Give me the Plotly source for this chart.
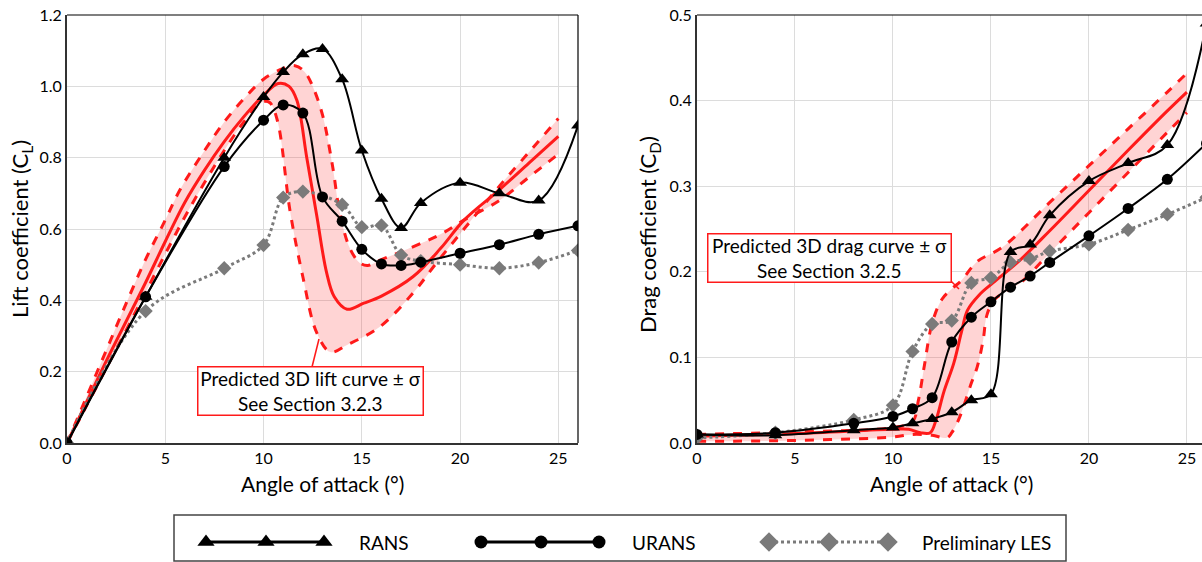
import plotly.graph_objects as go

# ---------------- data ----------------
# Lift coefficient vs angle of attack
aoa_rans_cl = [0, 4, 8, 10, 11, 12, 13, 14, 15, 16, 17, 18, 20, 22, 24, 26]
cl_rans = [0, 0.41, 0.80, 0.97, 1.04, 1.09, 1.105, 1.02, 0.82, 0.685, 0.603, 0.673, 0.73, 0.70, 0.68, 0.89]

aoa_urans_cl = [0, 4, 8, 10, 11, 12, 13, 14, 15, 16, 17, 18, 20, 22, 24, 26]
cl_urans = [0, 0.41, 0.775, 0.905, 0.948, 0.925, 0.69, 0.622, 0.543, 0.502, 0.498, 0.507, 0.532, 0.556, 0.585, 0.609]

aoa_les_cl = [0, 4, 8, 10, 11, 12, 14, 15, 16, 17, 18, 20, 22, 24, 26]
cl_les = [0, 0.37, 0.49, 0.555, 0.688, 0.705, 0.668, 0.605, 0.61, 0.527, 0.51, 0.50, 0.49, 0.506, 0.54]

# Predicted 3D lift curve and its +/- sigma envelopes
aoa_pred_cl = [0, 1, 2, 3, 4, 5, 6, 7, 8, 9, 10, 10.75, 11.3, 11.7, 12.2, 12.7, 13.2, 13.6,
               14.25, 15.1, 16, 17.6, 19, 20.2, 22, 23.5, 25]
cl_pred = [0, 0.115, 0.23, 0.34, 0.45, 0.565, 0.675, 0.765, 0.845, 0.915, 0.975, 1.008, 1.0, 0.96,
           0.80, 0.64, 0.48, 0.41, 0.375, 0.392, 0.412, 0.466, 0.545, 0.625, 0.71, 0.785, 0.86]

aoa_cl_late = [0, 1, 2, 3, 4, 5, 5.75, 7, 8, 9, 10, 11, 11.6, 12.1, 12.5, 13, 13.5, 13.9, 14.4,
               14.9, 15.3, 15.9, 17.6, 19, 20.2, 22, 23.5, 25]
cl_late = [0, 0.13, 0.26, 0.39, 0.515, 0.625, 0.71, 0.82, 0.9, 0.965, 1.02, 1.05, 1.058, 1.04,
           1.0, 0.92, 0.78, 0.64, 0.545, 0.505, 0.498, 0.512, 0.55, 0.585, 0.625, 0.68, 0.745, 0.81]

aoa_cl_early = [0, 1, 2, 3, 3.7, 5, 6.26, 8, 9, 9.9, 10.3, 10.7, 11.35, 12.0, 12.7, 13.4, 14.25,
                15.9, 17.6, 18.8, 20.2, 22, 23.5, 25]
cl_early = [0, 0.105, 0.21, 0.315, 0.39, 0.53, 0.66, 0.82, 0.9, 0.955, 0.955, 0.905, 0.65, 0.466,
            0.31, 0.255, 0.275, 0.325, 0.42, 0.505, 0.6, 0.72, 0.815, 0.91]

# Drag coefficient vs angle of attack
aoa_rans_cd = [0, 4, 8, 10, 11, 12, 13, 14, 15, 16, 17, 18, 20, 22, 24, 26]
cd_rans = [0.010, 0.009, 0.015, 0.018, 0.023, 0.028, 0.036, 0.050, 0.057, 0.223, 0.232, 0.266,
           0.306, 0.327, 0.348, 0.49]

aoa_urans_cd = [0, 4, 8, 10, 11, 12, 13, 14, 15, 16, 17, 18, 20, 22, 24, 26]
cd_urans = [0.010, 0.012, 0.023, 0.031, 0.040, 0.053, 0.118, 0.147, 0.165, 0.182, 0.195, 0.211,
            0.242, 0.274, 0.308, 0.35]

aoa_les_cd = [0, 4, 8, 10, 11, 12, 13, 14, 15, 16, 17, 18, 20, 22, 24, 26]
cd_les = [0.006, 0.012, 0.027, 0.044, 0.107, 0.139, 0.143, 0.187, 0.193, 0.211, 0.215, 0.224,
          0.232, 0.249, 0.267, 0.287]

# Predicted 3D drag curve and its +/- sigma envelopes
aoa_pred_cd = [0, 5, 10, 10.8, 11.4, 11.9, 12.2, 12.6, 13.1, 13.5, 13.8, 14.4, 15.1, 16.5, 18,
               20, 22, 24, 25]
cd_pred = [0.008, 0.011, 0.016, 0.016, 0.012, 0.012, 0.027, 0.06, 0.093, 0.13, 0.155, 0.173,
           0.187, 0.214, 0.248, 0.295, 0.342, 0.388, 0.41]

aoa_cd_upper = [0, 5, 10, 11, 11.3, 11.6, 12, 12.5, 13, 13.5, 14.3, 15.6, 18, 20, 22, 24, 25]
cd_upper = [0.010, 0.013, 0.018, 0.025, 0.05, 0.09, 0.14, 0.168, 0.18, 0.19, 0.212, 0.229, 0.281,
            0.324, 0.367, 0.41, 0.432]

aoa_cd_lower = [0, 5, 10, 11, 12, 12.75, 13.0, 13.4, 14.0, 14.3, 14.6, 14.8, 15.2, 16.5, 18, 20,
                22, 24, 25]
cd_lower = [0.002, 0.003, 0.007, 0.01, 0.009, 0.006, 0.012, 0.03, 0.07, 0.089, 0.12, 0.15, 0.168,
            0.187, 0.222, 0.269, 0.316, 0.363, 0.386]

x_ticks = [0, 5, 10, 15, 20, 25]
series_names = ["RANS", "URANS", "Preliminary LES"]

# ---------------- styling ----------------
W, H = 1202, 562
FONT = "Lato"
RED = "#ff1a1a"
BAND = "rgba(255, 40, 40, 0.20)"
GRAY = "#7a7a7a"
GRID = "#dcdcdc"
AXIS = "#333333"


def px(x):
    return x / W


def py(y):
    return 1 - y / H


fig = go.Figure()


def add_prediction(xa, ya, x_mean, y_mean, x_a, y_a, x_b, y_b):
    fig.add_trace(go.Scatter(x=x_a, y=y_a, mode="lines", xaxis=xa, yaxis=ya,
                             line=dict(color=RED, width=3, dash="dash", shape="spline"),
                             showlegend=False, hoverinfo="skip"))
    fig.add_trace(go.Scatter(x=x_b, y=y_b, mode="lines", xaxis=xa, yaxis=ya,
                             line=dict(color=RED, width=3, dash="dash", shape="spline"),
                             fill="tonexty", fillcolor=BAND,
                             showlegend=False, hoverinfo="skip"))
    fig.add_trace(go.Scatter(x=x_mean, y=y_mean, mode="lines", xaxis=xa, yaxis=ya,
                             line=dict(color=RED, width=3, shape="spline"),
                             showlegend=False))


def add_series(xa, ya, x_les, y_les, x_ur, y_ur, x_ra, y_ra):
    fig.add_trace(go.Scatter(x=x_les, y=y_les, mode="lines+markers", xaxis=xa, yaxis=ya,
                             name=series_names[2],
                             line=dict(color=GRAY, width=3, dash="dot", shape="spline"),
                             marker=dict(symbol="diamond", size=11, color=GRAY),
                             showlegend=False))
    fig.add_trace(go.Scatter(x=x_ur, y=y_ur, mode="lines+markers", xaxis=xa, yaxis=ya,
                             name=series_names[1],
                             line=dict(color="black", width=2, shape="spline"),
                             marker=dict(symbol="circle", size=11, color="black"),
                             showlegend=False))
    fig.add_trace(go.Scatter(x=x_ra, y=y_ra, mode="lines+markers", xaxis=xa, yaxis=ya,
                             name=series_names[0],
                             line=dict(color="black", width=2, shape="spline"),
                             marker=dict(symbol="triangle-up", size=12, color="black"),
                             showlegend=False))


add_prediction("x", "y", aoa_pred_cl, cl_pred, aoa_cl_late, cl_late, aoa_cl_early, cl_early)
add_series("x", "y", aoa_les_cl, cl_les, aoa_urans_cl, cl_urans, aoa_rans_cl, cl_rans)
add_prediction("x2", "y2", aoa_pred_cd, cd_pred, aoa_cd_upper, cd_upper, aoa_cd_lower, cd_lower)
add_series("x2", "y2", aoa_les_cd, cd_les, aoa_urans_cd, cd_urans, aoa_rans_cd, cd_rans)

# ---------------- legend strip (drawn on a pixel-space axis under the plots) ----------------
legend_y = 542
legend_top = 505
legend_rows = [
    ([206, 266, 324], dict(symbol="triangle-up", size=15, color="black"),
     dict(color="black", width=3), 357),
    ([481, 541, 599], dict(symbol="circle", size=13, color="black"),
     dict(color="black", width=3), 630),
    ([769, 829, 888], dict(symbol="diamond", size=15, color=GRAY),
     dict(color=GRAY, width=3, dash="dot"), 920),
]
for (xs, mk, ln, tx), name in zip(legend_rows, series_names):
    fig.add_trace(go.Scatter(x=xs, y=[legend_y] * 3, mode="lines+markers",
                             xaxis="x3", yaxis="y3", marker=mk, line=ln,
                             showlegend=False, hoverinfo="skip", cliponaxis=False))

axis_common = dict(showgrid=True, gridcolor=GRID, gridwidth=1, zeroline=False,
                   showline=True, linecolor=AXIS, linewidth=2, ticks="",
                   automargin=False,
                   tickfont=dict(family=FONT, size=16, color="black"))

ydom = [py(443), py(15)]
fig.update_layout(
    width=W, height=H,
    margin=dict(l=0, r=0, t=0, b=0, autoexpand=False),
    paper_bgcolor="white", plot_bgcolor="white",
    font=dict(family=FONT, color="black"),
    showlegend=False,
    xaxis=dict(domain=[px(67), px(578)], range=[0, 26], tickvals=x_ticks,
               anchor="y", **axis_common),
    yaxis=dict(domain=ydom, range=[0, 1.2], dtick=0.2, tickformat=".1f",
               anchor="x", **axis_common),
    xaxis2=dict(domain=[px(697), 1], range=[0, 25.77], tickvals=x_ticks,
                anchor="y2", **axis_common),
    yaxis2=dict(domain=ydom, range=[0, 0.5], dtick=0.1, tickformat=".1f",
                anchor="x2", **axis_common),
    xaxis3=dict(domain=[0, 1], range=[0, W], visible=False, anchor="y3", automargin=False),
    yaxis3=dict(domain=[0, py(legend_top)], range=[H, legend_top], visible=False, anchor="x3",
                automargin=False),
)

shapes = [
    # thin frame on the top / right edges of the plots
    dict(type="line", xref="paper", yref="paper", x0=px(67), x1=px(578), y0=py(15), y1=py(15),
         line=dict(color="black", width=1.2)),
    dict(type="line", xref="paper", yref="paper", x0=px(578), x1=px(578), y0=py(15), y1=py(443),
         line=dict(color="black", width=1.2)),
    dict(type="line", xref="paper", yref="paper", x0=px(697), x1=1, y0=py(15), y1=py(15),
         line=dict(color="black", width=1.2)),
    # callout leaders
    dict(type="line", xref="paper", yref="paper", x0=px(312), x1=px(319), y0=py(367), y1=py(339),
         line=dict(color=RED, width=1.5)),
    dict(type="line", xref="paper", yref="paper", x0=px(950), x1=px(959), y0=py(280), y1=py(289),
         line=dict(color=RED, width=1.5)),
    # legend frame
    dict(type="rect", xref="paper", yref="paper", x0=px(174), x1=px(1066), y0=py(515), y1=py(561),
         line=dict(color="#444444", width=1.5), fillcolor="rgba(0,0,0,0)"),
]
fig.update_layout(shapes=shapes)

annotations = [
    dict(text="Lift coefficient (C<sub>L</sub>)", x=px(21), y=py(229), textangle=-90,
         font=dict(size=22)),
    dict(text="Drag coefficient (C<sub>D</sub>)", x=px(649), y=py(235), textangle=-90,
         font=dict(size=22)),
    dict(text="Angle of attack (°)", x=px(322), y=py(483), font=dict(size=21)),
    dict(text="Angle of attack (°)", x=px(951), y=py(483), font=dict(size=21)),
    dict(text="Predicted 3D lift curve ± σ<br>See Section 3.2.3", x=px(310), y=py(391),
         font=dict(size=19), bordercolor=RED, borderwidth=1.5, borderpad=2, bgcolor="white",
         width=220, height=43),
    dict(text="Predicted 3D drag curve ± σ<br>See Section 3.2.5", x=px(829), y=py(257.5),
         font=dict(size=19), bordercolor=RED, borderwidth=1.5, borderpad=2, bgcolor="white",
         width=238, height=43),
]
for (xs, mk, ln, tx), name in zip(legend_rows, series_names):
    annotations.append(dict(text=name, x=px(tx), y=py(legend_y), xanchor="left",
                            font=dict(size=19)))
for a in annotations:
    a.setdefault("xref", "paper")
    a.setdefault("yref", "paper")
    a.setdefault("showarrow", False)
    a.setdefault("xanchor", "center")
    a.setdefault("yanchor", "middle")
fig.update_layout(annotations=annotations)

fig.write_html("out.html")
